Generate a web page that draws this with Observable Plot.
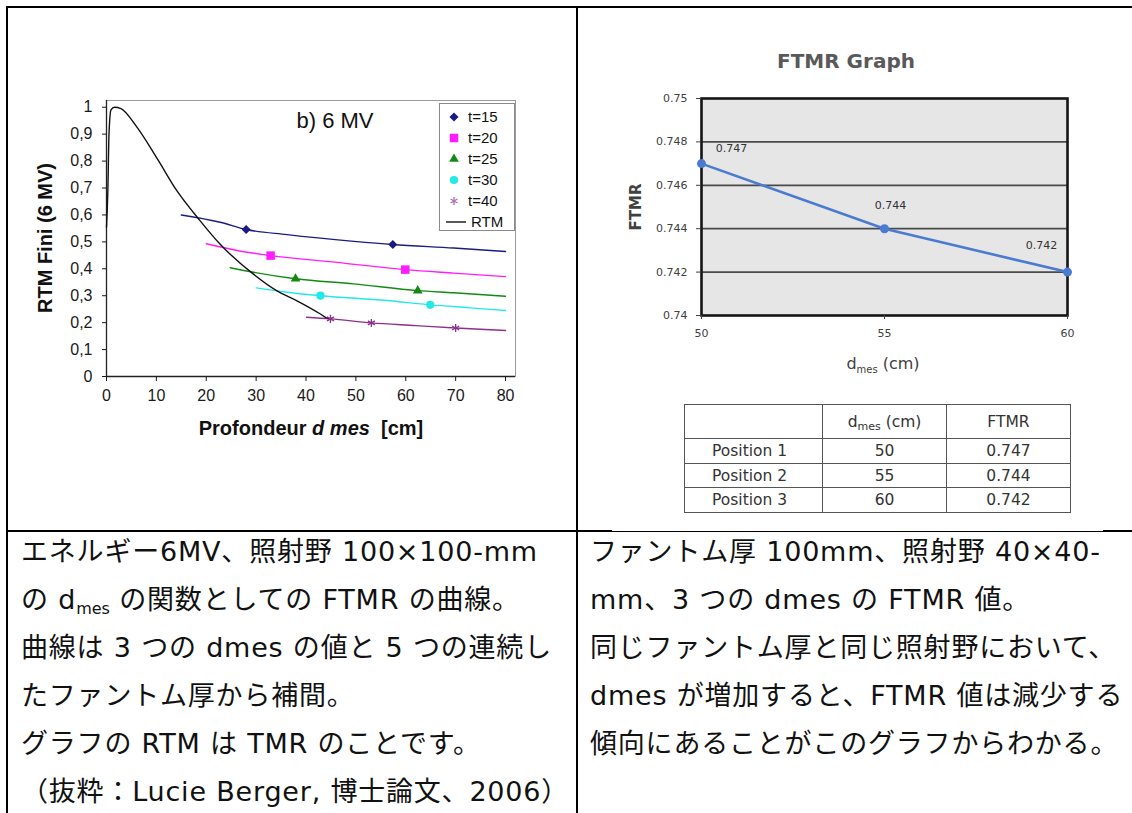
<!DOCTYPE html>
<html><head><meta charset="utf-8">
<script src="https://cdn.jsdelivr.net/npm/d3@7"></script>
<script src="https://cdn.jsdelivr.net/npm/@observablehq/plot@0.6"></script>
<style>
html,body{margin:0;padding:0;background:#fff;}
body{width:1132px;height:813px;position:relative;overflow:hidden;}
.bar{position:absolute;background:#000;}
.holder{position:absolute;}
.holder svg{display:block;}
.lab{position:absolute;white-space:nowrap;transform:translate(-50%,-50%);}
.cap{position:absolute;font-family:"DejaVu Sans","Noto Sans CJK JP",sans-serif;font-size:27px;letter-spacing:0.8px;line-height:48px;color:#111;white-space:nowrap;}
.cap sub{font-size:16px;letter-spacing:0;vertical-align:-5px;line-height:0;}
#tbl{position:absolute;left:684px;top:404px;border-collapse:collapse;font-family:"DejaVu Sans",sans-serif;font-size:15.5px;color:#333;}
#tbl td{border:1px solid #555;padding:0;text-align:center;}
#tbl sub{font-size:11px;vertical-align:-3px;line-height:0;}
#legend{position:absolute;left:439px;top:103px;width:74px;height:126px;border:1px solid #8a8a8a;background:#fff;font-family:"Liberation Sans",Arial,sans-serif;font-size:15px;color:#111;}
.lrow{position:absolute;left:0;height:20px;width:74px;}
.lrow svg{position:absolute;left:4px;top:0;}
.lrow span{position:absolute;left:28px;top:1px;line-height:18px;}
</style></head>
<body>
<div id="page"></div>
<script>
// ---------- Left chart data (RTM / TMR, 6 MV) ----------
const rtmDepth = [0, 0.27, 0.5, 0.9, 1.6, 2.9, 6.1, 10.2, 14.1, 18.7, 22.7, 29.4, 34.1, 38.1, 42.8, 44.1, 45.1];
const rtmValue = [0.554, 0.69, 0.90, 0.99, 1.0, 0.995, 0.926, 0.808, 0.69, 0.58, 0.493, 0.381, 0.319, 0.282, 0.233, 0.218, 0.214];

const thicknessNames = ["t=15", "t=20", "t=25", "t=30", "t=40"];
const thicknessColors = ["#1b1b86", "#ff1cff", "#128a12", "#22e8e8", "#8e2f8e"];
const thicknessSymbols = ["diamond2", "square", "triangle", "circle", "asterisk"];

const curveDepth15 = [15, 22.8, 28, 36.2, 49.6, 57.4, 69.6, 80];
const curveValue15 = [0.600, 0.573, 0.546, 0.527, 0.502, 0.490, 0.477, 0.464];
const curveDepth20 = [20, 26.2, 32.9, 46.2, 59.9, 69.6, 80];
const curveValue20 = [0.493, 0.468, 0.449, 0.424, 0.397, 0.384, 0.371];
const curveDepth25 = [24.8, 29.5, 37.9, 49.6, 62.4, 69.6, 80];
const curveValue25 = [0.404, 0.387, 0.363, 0.344, 0.319, 0.311, 0.298];
const curveDepth30 = [30, 36.2, 42.9, 56.2, 64.9, 72.9, 80];
const curveValue30 = [0.329, 0.313, 0.300, 0.282, 0.266, 0.255, 0.245];
const curveDepth40 = [40.1, 44.9, 53.1, 62, 70, 80];
const curveValue40 = [0.220, 0.214, 0.199, 0.189, 0.180, 0.171];

const markDepth15 = [28, 57.4],  markValue15 = [0.546, 0.490];
const markDepth20 = [32.9, 59.9], markValue20 = [0.449, 0.397];
const markDepth25 = [37.9, 62.4], markValue25 = [0.363, 0.319];
const markDepth30 = [42.9, 64.9], markValue30 = [0.300, 0.266];
const markDepth40 = [44.9, 53.1, 70.0], markValue40 = [0.214, 0.199, 0.180];

const leftXTicks = [0, 10, 20, 30, 40, 50, 60, 70, 80];
const leftYTicks = [0, 0.1, 0.2, 0.3, 0.4, 0.5, 0.6, 0.7, 0.8, 0.9, 1];

// ---------- Right chart data (FTMR) ----------
const ftmrDepth = [50, 55, 60];
const ftmrValue = [0.747, 0.744, 0.742];
const ftmrLabels = ["0.747", "0.744", "0.742"];
const ftmrYTicks = [0.74, 0.742, 0.744, 0.746, 0.748, 0.75];
const ftmrGrid = [0.742, 0.744, 0.746, 0.748];
const tablePositions = ["Position 1", "Position 2", "Position 3"];

// ---------- Text ----------
const leftCaption = [
  "エネルギー6MV、照射野 100×100-mm",
  "の d<sub>mes</sub> の関数としての FTMR の曲線。",
  "曲線は 3 つの dmes の値と 5 つの連続し",
  "たファントム厚から補間。",
  "グラフの RTM は TMR のことです。",
  "（抜粋：Lucie Berger, 博士論文、2006）"
];
const rightCaption = [
  "ファントム厚 100mm、照射野 40×40-",
  "mm、3 つの dmes の FTMR 値。",
  "同じファントム厚と同じ照射野において、",
  "dmes が増加すると、FTMR 値は減少する",
  "傾向にあることがこのグラフからわかる。"
];

const page = document.getElementById("page");
function bar(l, t, w, h) {
  const d = document.createElement("div"); d.className = "bar";
  Object.assign(d.style, {left: l + "px", top: t + "px", width: w + "px", height: h + "px"});
  page.appendChild(d);
}
function label(html, x, y, css, rot) {
  const d = document.createElement("div"); d.className = "lab";
  d.innerHTML = html;
  d.style.left = x + "px"; d.style.top = y + "px";
  d.style.cssText += css;
  if (rot) d.style.transform = "translate(-50%,-50%) rotate(-90deg)";
  page.appendChild(d);
}
function holder(l, t) {
  const d = document.createElement("div"); d.className = "holder";
  d.style.left = l + "px"; d.style.top = t + "px";
  page.appendChild(d); return d;
}

// ---------- Table borders ----------
bar(6, 6, 1126, 2);
bar(6, 6, 2, 807);
bar(576, 6, 2, 807);
bar(6, 529.5, 606, 2);
bar(612, 530.5, 491, 1);
bar(1103, 530, 29, 2);

// ---------- Left chart ----------
const zipPts = (xs, ys, s) => xs.map((x, i) => ({x, y: ys[i], s}));
const curves = [
  zipPts(curveDepth15, curveValue15, 0), zipPts(curveDepth20, curveValue20, 1),
  zipPts(curveDepth25, curveValue25, 2), zipPts(curveDepth30, curveValue30, 3),
  zipPts(curveDepth40, curveValue40, 4)
];
const marks = [
  zipPts(markDepth15, markValue15, 0), zipPts(markDepth20, markValue20, 1),
  zipPts(markDepth25, markValue25, 2), zipPts(markDepth30, markValue30, 3),
  zipPts(markDepth40, markValue40, 4)
];
const rtm = zipPts(rtmDepth, rtmValue, -1);
const commaFmt = d => d === 0 ? "0" : d === 1 ? "1" : d.toFixed(1).replace(".", ",");
const symbolR = [4.1, 4.8, 3.6, 4.1, 3.8];

const leftChart = Plot.plot({
  width: 520, height: 370,
  marginLeft: 86, marginRight: 25, marginTop: 20, marginBottom: 74,
  style: {fontFamily: "'Liberation Sans', Arial, sans-serif", fontSize: "16px", color: "#1a1a1a", background: "transparent", overflow: "visible"},
  x: {domain: [0, 82], label: null},
  y: {domain: [0, 1.025], label: null},
  marks: [
    Plot.frame({stroke: "#9a9a9a", strokeWidth: 1}),
    Plot.ruleY([0], {stroke: "#222", strokeWidth: 1.3}),
    Plot.ruleX([0], {stroke: "#222", strokeWidth: 1.3}),
    Plot.axisX({ticks: leftXTicks, tickSize: 5, tickPadding: 8, tickFormat: d => String(d), label: null}),
    Plot.axisY({ticks: leftYTicks, tickSize: 4, tickPadding: 10, tickFormat: commaFmt, label: null}),
    ...curves.map((c, i) => Plot.line(c, {x: "x", y: "y", stroke: thicknessColors[i], strokeWidth: 1.4, curve: "monotone-x"})),
    Plot.line(rtm, {x: "x", y: "y", stroke: "#111", strokeWidth: 1.4, curve: "monotone-x"}),
    ...marks.map((m, i) => thicknessSymbols[i] === "asterisk"
      ? Plot.dot(m, {x: "x", y: "y", symbol: "asterisk", r: symbolR[i], stroke: thicknessColors[i], strokeWidth: 1.3})
      : Plot.dot(m, {x: "x", y: "y", symbol: thicknessSymbols[i], r: symbolR[i], fill: thicknessColors[i], stroke: "none"}))
  ]
});
holder(20, 80).appendChild(leftChart);

label("b) 6 MV", 335, 121, "font-family:'Liberation Sans',Arial,sans-serif;font-size:22px;color:#111;");
label("RTM Fini (6 MV)", 45, 238, "font-family:'Liberation Sans',Arial,sans-serif;font-size:20px;font-weight:bold;color:#111;", true);
label("Profondeur <i>d mes</i>&nbsp; [cm]", 311, 428, "font-family:'Liberation Sans',Arial,sans-serif;font-size:20px;font-weight:bold;color:#111;");

// legend
const legend = document.createElement("div"); legend.id = "legend"; page.appendChild(legend);
const rowTops = [3, 24, 45, 66, 87, 108];
const symMap = {diamond2: d3.symbolDiamond2, square: d3.symbolSquare, triangle: d3.symbolTriangle, circle: d3.symbolCircle, asterisk: d3.symbolAsterisk};
thicknessNames.concat(["RTM"]).forEach((name, i) => {
  const row = document.createElement("div"); row.className = "lrow"; row.style.top = rowTops[i] + "px";
  const svg = d3.create("svg").attr("width", 24).attr("height", 20);
  if (i < thicknessNames.length) {
    const r = symbolR[i];
    const p = svg.append("path").attr("transform", "translate(10,10)")
      .attr("d", d3.symbol(symMap[thicknessSymbols[i]], r * r * Math.PI)());
    if (thicknessSymbols[i] === "asterisk") p.attr("fill", "none").attr("stroke", "#b070b0").attr("stroke-width", 1.3);
    else p.attr("fill", thicknessColors[i]);
  } else {
    svg.append("line").attr("x1", 2).attr("x2", 22).attr("y1", 10).attr("y2", 10).attr("stroke", "#111").attr("stroke-width", 1.4);
  }
  row.appendChild(svg.node());
  const sp = document.createElement("span"); sp.textContent = name;
  if (i === 5) sp.style.left = "31px";
  row.appendChild(sp);
  legend.appendChild(row);
});

// ---------- Right chart ----------
const ftmr = ftmrDepth.map((d, i) => ({d, v: ftmrValue[i], t: ftmrLabels[i]}));
const labelDx = [30, 6, -26], labelDy = [-15, -23, -27];
const rightChart = Plot.plot({
  width: 520, height: 340,
  marginLeft: 121, marginRight: 33, marginTop: 58, marginBottom: 65,
  style: {fontFamily: "'DejaVu Sans', sans-serif", fontSize: "11px", color: "#404040", background: "transparent", overflow: "visible"},
  x: {domain: [50, 60], label: null},
  y: {domain: [0.74, 0.75], label: null},
  marks: [
    Plot.frame({fill: "#e6e6e6", stroke: "none"}),
    Plot.ruleY(ftmrGrid, {stroke: "#4a4a4a", strokeWidth: 1.7}),
    Plot.frame({stroke: "#151515", strokeWidth: 2.6}),
    Plot.axisY({ticks: ftmrYTicks, tickSize: 5, tickPadding: 9, tickFormat: d => String(+d.toFixed(3)), label: null}),
    Plot.axisX({ticks: ftmrDepth, tickSize: 4, tickPadding: 10, tickFormat: d => String(d), label: null}),
    Plot.line(ftmr, {x: "d", y: "v", stroke: "#4a7bd1", strokeWidth: 2.6}),
    Plot.dot(ftmr, {x: "d", y: "v", r: 4.5, fill: "#4a7bd1"}),
    ...ftmr.map((p, i) => Plot.text([p], {x: "d", y: "v", text: "t", dx: labelDx[i], dy: labelDy[i], fill: "#333", fontSize: 11}))
  ]
});
holder(580, 40).appendChild(rightChart);

label("FTMR Graph", 846, 61, "font-family:'DejaVu Sans',sans-serif;font-size:20px;font-weight:bold;color:#595959;");
label("FTMR", 636, 207, "font-family:'DejaVu Sans',sans-serif;font-size:15px;font-weight:bold;color:#404040;", true);
label("d<sub style='font-size:10px;vertical-align:-4px;line-height:0'>mes</sub> (cm)", 883, 363, "font-family:'DejaVu Sans',sans-serif;font-size:16px;color:#404040;");

// ---------- Table ----------
const tbl = document.createElement("table"); tbl.id = "tbl";
const colW = [137, 123, 123];
const rowH = [34, 25, 24, 25];
let html = `<tr style="height:${rowH[0]}px"><td style="width:${colW[0]}px"></td><td style="width:${colW[1]}px">d<sub>mes</sub> (cm)</td><td style="width:${colW[2]}px">FTMR</td></tr>`;
tablePositions.forEach((p, i) => {
  html += `<tr style="height:${rowH[i + 1]}px"><td style="text-align:left;padding-left:27px">${p}</td><td>${ftmrDepth[i]}</td><td>${ftmrLabels[i]}</td></tr>`;
});
tbl.innerHTML = html;
page.appendChild(tbl);

// ---------- Captions ----------
const capL = document.createElement("div"); capL.className = "cap";
capL.style.left = "21px"; capL.style.top = "528px";
capL.innerHTML = leftCaption.join("<br>");
page.appendChild(capL);
const capR = document.createElement("div"); capR.className = "cap";
capR.style.left = "590px"; capR.style.top = "528px";
capR.innerHTML = rightCaption.join("<br>");
page.appendChild(capR);
</script>
</body></html>
